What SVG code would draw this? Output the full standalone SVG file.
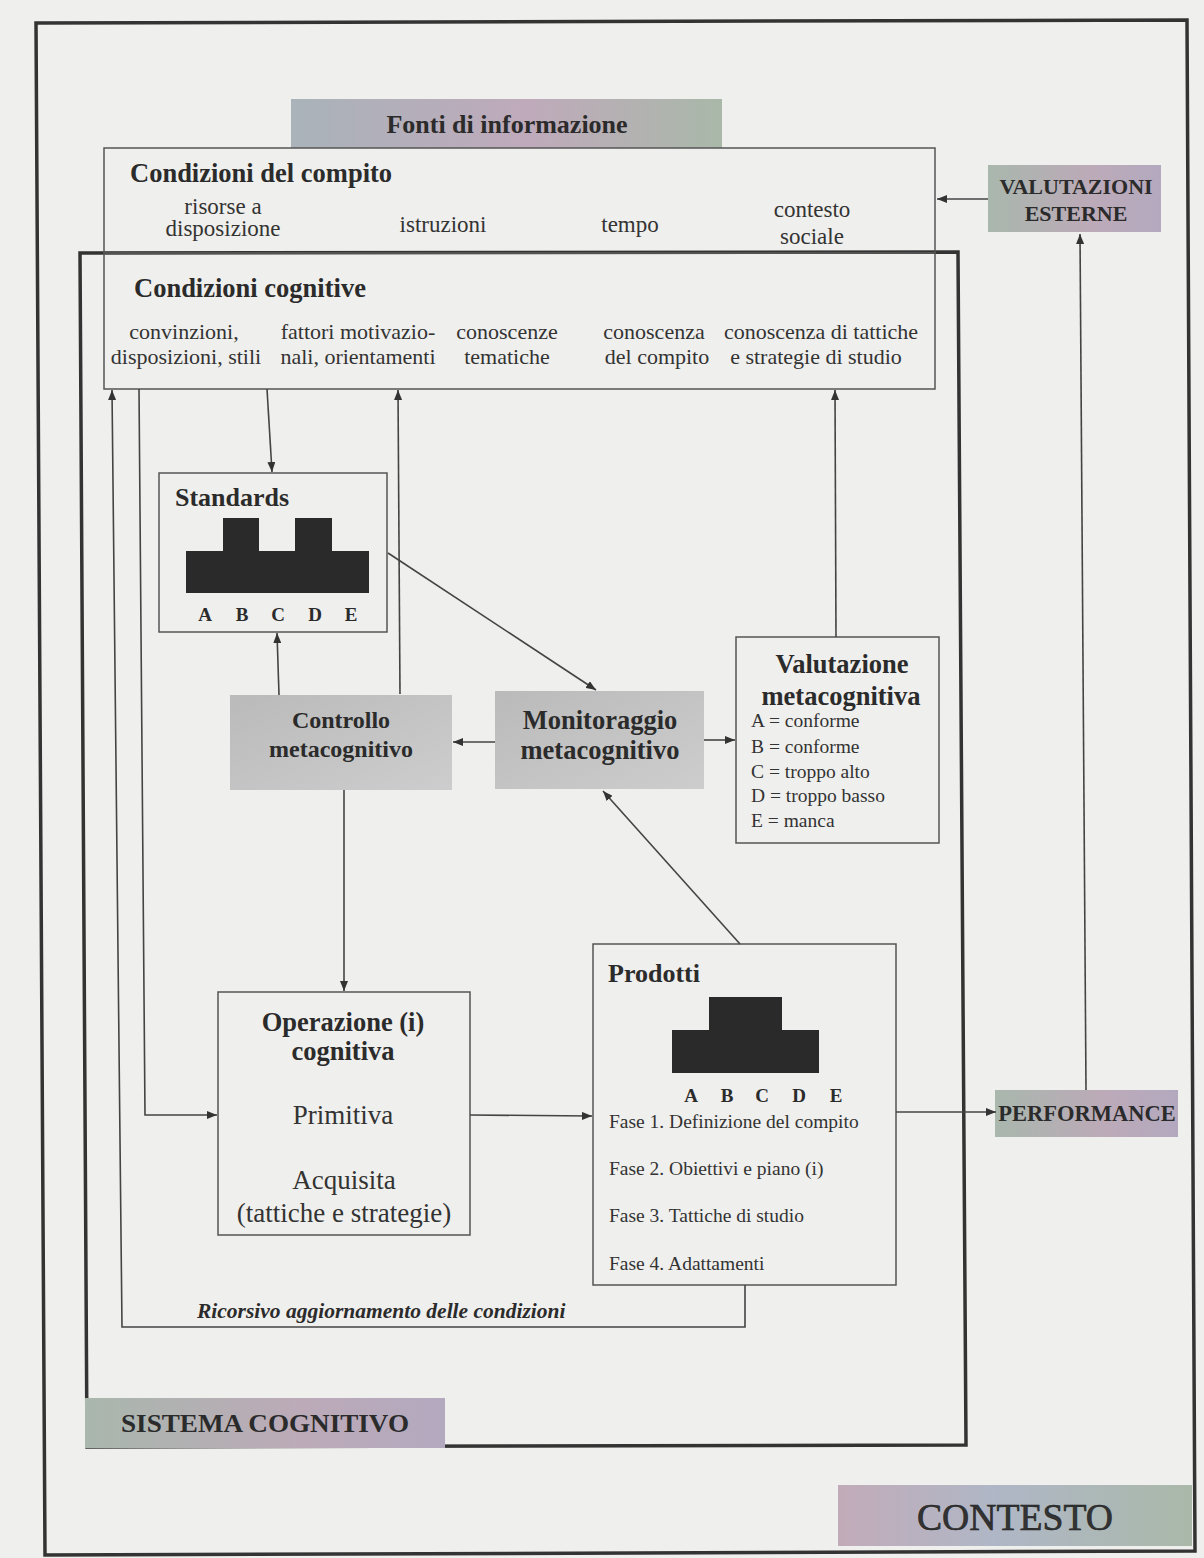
<svg xmlns="http://www.w3.org/2000/svg" width="1204" height="1558" viewBox="0 0 1204 1558">
<defs>
<style>
.frame{fill:none;stroke:#333;stroke-width:3.5}
.box{fill:none;stroke:#555;stroke-width:1.5}
.conn{fill:none;stroke:#444;stroke-width:1.6}
.b{font-family:"Liberation Serif","Times New Roman",serif;font-weight:bold;fill:#2b2b2b}
.r{font-family:"Liberation Serif","Times New Roman",serif;fill:#333}
.c{text-anchor:middle}
.hist{fill:#2a2a2a}
</style>
<linearGradient id="g1" x1="0" y1="0" x2="1" y2="0">
<stop offset="0" stop-color="#a9b3b9"/><stop offset="0.55" stop-color="#bfaabb"/><stop offset="1" stop-color="#a9b8a9"/>
</linearGradient>
<linearGradient id="g2" x1="0" y1="0" x2="1" y2="0">
<stop offset="0" stop-color="#a9b7ad"/><stop offset="0.6" stop-color="#bcaab8"/><stop offset="1" stop-color="#b3a9bf"/>
</linearGradient>
<linearGradient id="g3" x1="0" y1="0" x2="1" y2="0">
<stop offset="0" stop-color="#c2abb9"/><stop offset="0.45" stop-color="#afb7c6"/><stop offset="1" stop-color="#aab8a9"/>
</linearGradient>
<linearGradient id="gg" x1="0" y1="0" x2="1" y2="1">
<stop offset="0" stop-color="#bababa"/><stop offset="1" stop-color="#cdcdcd"/>
</linearGradient>
<marker id="ah" viewBox="0 0 10 8" refX="10" refY="4" markerWidth="10" markerHeight="8" markerUnits="userSpaceOnUse" orient="auto">
<path d="M0,0 L10,4 L0,8 z" fill="#333"/>
</marker>
</defs>
<rect x="0" y="0" width="1204" height="1558" fill="#efefed"/>

<g id="contesto">
<path class="frame" d="M36,23 L1187,20 L1195,1551 L45,1555 Z"/>
<rect x="838" y="1485" width="354" height="61" fill="url(#g3)"/>
<text class="r c" x="1015" y="1530" font-size="38" textLength="196" lengthAdjust="spacingAndGlyphs" fill="#1e1e1e" stroke="#1e1e1e" stroke-width="0.6">CONTESTO</text>
</g>

<g id="sistema-cognitivo">
<path class="frame" d="M80,253 L958,252 L966,1445 L87,1447 Z"/>
<rect x="85" y="1398" width="360" height="50" fill="url(#g2)"/>
<text class="b c" x="265" y="1432" font-size="26" textLength="288" lengthAdjust="spacingAndGlyphs" fill="#222">SISTEMA COGNITIVO</text>
</g>

<g id="fonti">
<rect x="291" y="99" width="431" height="49" fill="url(#g1)"/>
<text class="b c" x="507" y="133" font-size="26">Fonti di informazione</text>
</g>

<g id="condizioni-compito">
<rect class="box" x="104" y="148" width="831" height="105"/>
<text class="b" x="130" y="182" font-size="26.5">Condizioni del compito</text>
<text class="r c" x="223" y="214" font-size="23">risorse a</text>
<text class="r c" x="223" y="236" font-size="23">disposizione</text>
<text class="r c" x="443" y="232" font-size="23">istruzioni</text>
<text class="r c" x="630" y="232" font-size="23">tempo</text>
<text class="r c" x="812" y="217" font-size="23">contesto</text>
<text class="r c" x="812" y="244" font-size="23">sociale</text>
</g>

<g id="condizioni-cognitive">
<rect class="box" x="104" y="253" width="831" height="136"/>
<text class="b" x="134" y="297" font-size="26.5">Condizioni cognitive</text>
<text class="r c" x="184" y="339" font-size="22">convinzioni,</text>
<text class="r c" x="186" y="364" font-size="22">disposizioni, stili</text>
<text class="r c" x="358" y="339" font-size="22">fattori motivazio-</text>
<text class="r c" x="358" y="364" font-size="22">nali, orientamenti</text>
<text class="r c" x="507" y="339" font-size="22">conoscenze</text>
<text class="r c" x="507" y="364" font-size="22">tematiche</text>
<text class="r c" x="654" y="339" font-size="22">conoscenza</text>
<text class="r c" x="657" y="364" font-size="22">del compito</text>
<text class="r c" x="821" y="339" font-size="22">conoscenza di tattiche</text>
<text class="r c" x="816" y="364" font-size="22">e strategie di studio</text>
</g>

<g id="valutazioni-esterne">
<rect x="988" y="165" width="173" height="67" fill="url(#g2)"/>
<text class="b c" x="1076" y="194" font-size="22">VALUTAZIONI</text>
<text class="b c" x="1076" y="221" font-size="22">ESTERNE</text>
</g>

<g id="standards">
<rect class="box" x="159" y="473" width="228" height="159"/>
<text class="b" x="175" y="506" font-size="26">Standards</text>
<rect class="hist" x="186" y="551" width="183" height="42"/>
<rect class="hist" x="223" y="518" width="36" height="34"/>
<rect class="hist" x="295" y="518" width="37" height="34"/>
<text class="b c" x="205" y="621" font-size="19">A</text>
<text class="b c" x="242" y="621" font-size="19">B</text>
<text class="b c" x="278" y="621" font-size="19">C</text>
<text class="b c" x="315" y="621" font-size="19">D</text>
<text class="b c" x="351" y="621" font-size="19">E</text>
</g>

<g id="controllo">
<rect x="230" y="695" width="222" height="95" fill="url(#gg)"/>
<text class="b c" x="341" y="728" font-size="24">Controllo</text>
<text class="b c" x="341" y="757" font-size="24">metacognitivo</text>
</g>

<g id="monitoraggio">
<rect x="495" y="691" width="209" height="98" fill="url(#gg)"/>
<text class="b c" x="600" y="729" font-size="26.5">Monitoraggio</text>
<text class="b c" x="600" y="759" font-size="26.5">metacognitivo</text>
</g>

<g id="valutazione-metacognitiva">
<rect class="box" x="736" y="637" width="203" height="206"/>
<text class="b c" x="842" y="673" font-size="26.5">Valutazione</text>
<text class="b c" x="841" y="705" font-size="26.5">metacognitiva</text>
<text class="r" x="751" y="727" font-size="19.5">A = conforme</text>
<text class="r" x="751" y="753" font-size="19.5">B = conforme</text>
<text class="r" x="751" y="778" font-size="19.5">C = troppo alto</text>
<text class="r" x="751" y="802" font-size="19.5">D = troppo basso</text>
<text class="r" x="751" y="827" font-size="19.5">E = manca</text>
</g>

<g id="operazione">
<rect class="box" x="218" y="992" width="252" height="243"/>
<text class="b c" x="343" y="1031" font-size="26.5">Operazione (i)</text>
<text class="b c" x="343" y="1060" font-size="26.5">cognitiva</text>
<text class="r c" x="343" y="1124" font-size="27">Primitiva</text>
<text class="r c" x="344" y="1189" font-size="27">Acquisita</text>
<text class="r c" x="344" y="1222" font-size="27">(tattiche e strategie)</text>
</g>

<g id="prodotti">
<rect class="box" x="593" y="944" width="303" height="341"/>
<text class="b" x="608" y="982" font-size="26">Prodotti</text>
<rect class="hist" x="672" y="1030" width="147" height="43"/>
<rect class="hist" x="709" y="997" width="73" height="34"/>
<text class="b c" x="691" y="1102" font-size="19">A</text>
<text class="b c" x="727" y="1102" font-size="19">B</text>
<text class="b c" x="762" y="1102" font-size="19">C</text>
<text class="b c" x="799" y="1102" font-size="19">D</text>
<text class="b c" x="836" y="1102" font-size="19">E</text>
<text class="r" x="609" y="1128" font-size="19.5">Fase 1. Definizione del compito</text>
<text class="r" x="609" y="1175" font-size="19.5">Fase 2. Obiettivi e piano (i)</text>
<text class="r" x="609" y="1222" font-size="19.5">Fase 3. Tattiche di studio</text>
<text class="r" x="609" y="1270" font-size="19.5">Fase 4. Adattamenti</text>
</g>

<g id="performance">
<rect x="995" y="1090" width="183" height="47" fill="url(#g2)"/>
<text class="b c" x="1087" y="1121" font-size="22.5">PERFORMANCE</text>
</g>

<g id="ricorsivo">
<text class="b" x="197" y="1318" font-size="21.5" font-style="italic">Ricorsivo aggiornamento delle condizioni</text>
</g>

<g id="connectors">
<line class="conn" x1="988" y1="199" x2="937" y2="199" marker-end="url(#ah)"/>
<line class="conn" x1="1086" y1="1090" x2="1080" y2="234" marker-end="url(#ah)"/>
<line class="conn" x1="267" y1="389" x2="272" y2="472" marker-end="url(#ah)"/>
<line class="conn" x1="400" y1="694" x2="398" y2="390" marker-end="url(#ah)"/>
<line class="conn" x1="279" y1="695" x2="277" y2="633" marker-end="url(#ah)"/>
<line class="conn" x1="388" y1="553" x2="596" y2="690" marker-end="url(#ah)"/>
<line class="conn" x1="495" y1="742" x2="453" y2="742" marker-end="url(#ah)"/>
<line class="conn" x1="704" y1="740" x2="735" y2="740" marker-end="url(#ah)"/>
<line class="conn" x1="836" y1="637" x2="835" y2="390" marker-end="url(#ah)"/>
<line class="conn" x1="740" y1="944" x2="603" y2="791" marker-end="url(#ah)"/>
<line class="conn" x1="344" y1="790" x2="344" y2="991" marker-end="url(#ah)"/>
<polyline class="conn" points="139,389 145,1115 217,1115" marker-end="url(#ah)"/>
<line class="conn" x1="470" y1="1115" x2="592" y2="1116" marker-end="url(#ah)"/>
<line class="conn" x1="896" y1="1112" x2="996" y2="1112" marker-end="url(#ah)"/>
<polyline class="conn" points="745,1285 745,1327 122,1327 112,390" marker-end="url(#ah)"/>
</g>
</svg>
